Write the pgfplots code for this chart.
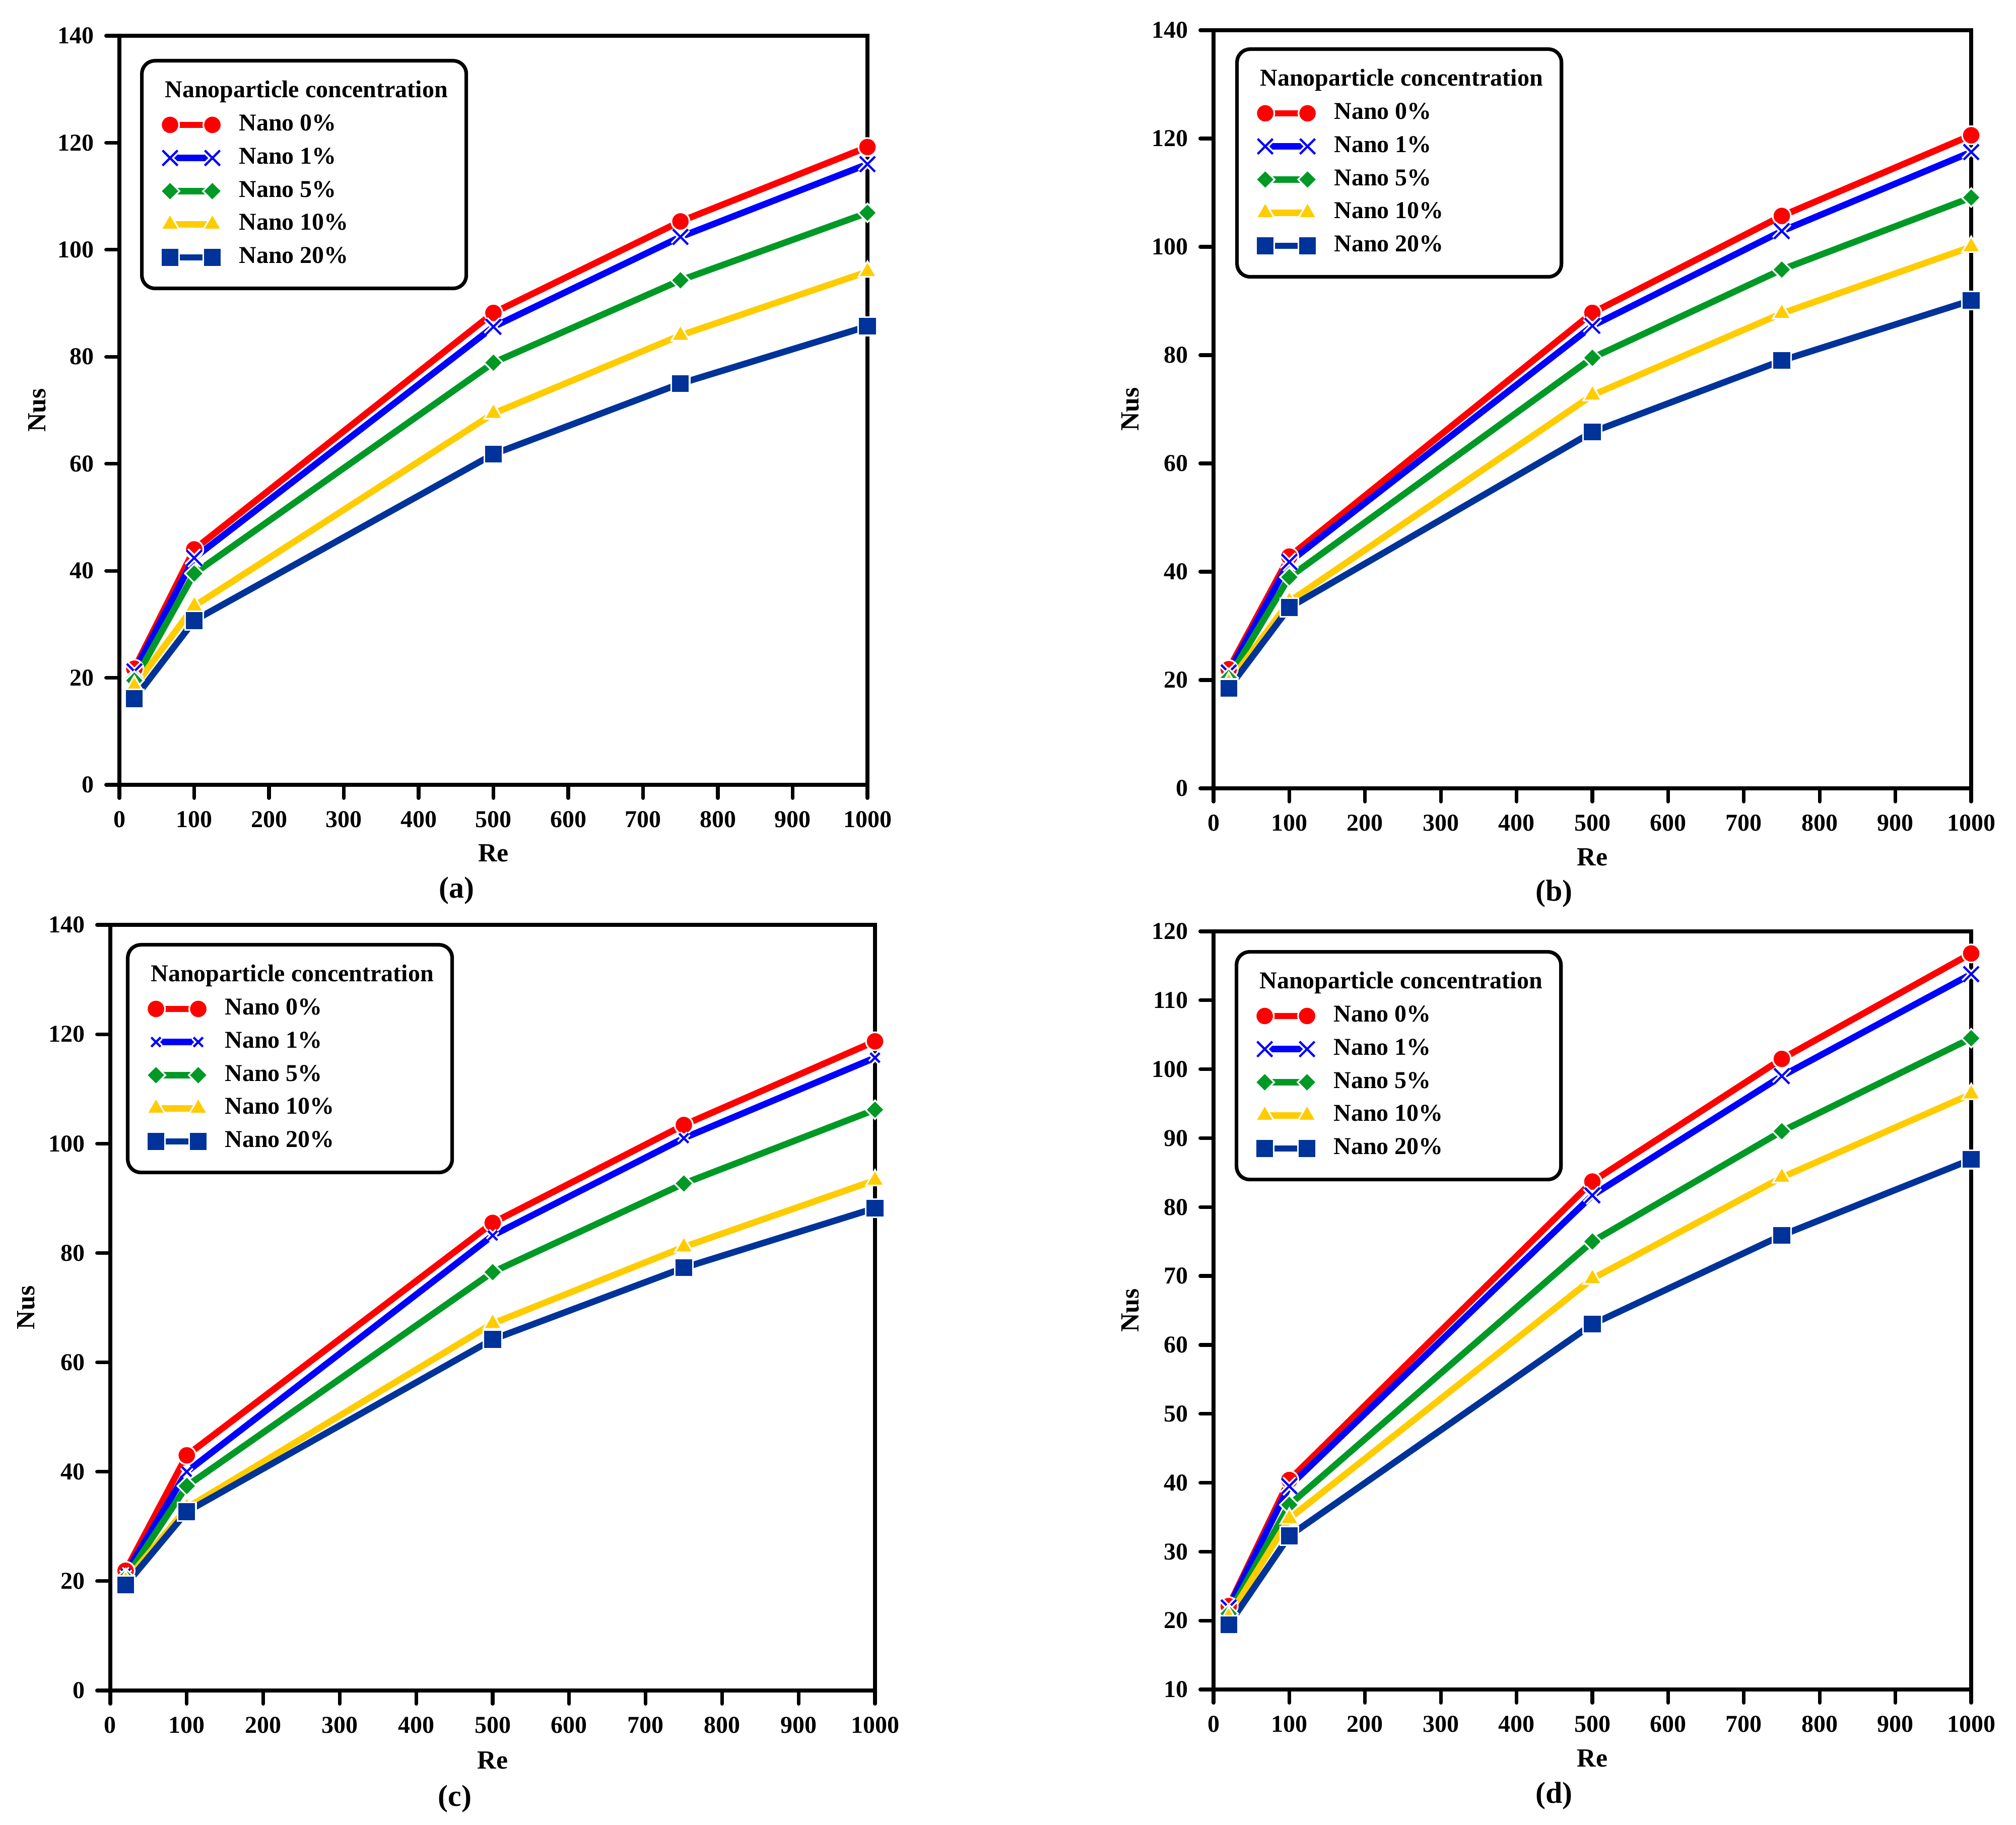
\documentclass[border=0pt]{standalone}
\usepackage{fontspec}
\setmainfont{Liberation Serif}
\usepackage{pgfplots}
\pgfplotsset{compat=1.18}

\definecolor{redC}{RGB}{255,0,0}
\definecolor{blueC}{RGB}{0,0,255}
\definecolor{greenC}{RGB}{0,153,38}
\definecolor{yellowC}{RGB}{255,204,0}
\definecolor{navyC}{RGB}{0,51,153}

\pgfdeclareplotmark{wx}{%
  \pgfsetlinewidth{2.8pt}\pgfsetstrokecolor{white}%
  \pgfpathmoveto{\pgfqpoint{-\pgfplotmarksize}{-\pgfplotmarksize}}%
  \pgfpathlineto{\pgfqpoint{\pgfplotmarksize}{\pgfplotmarksize}}%
  \pgfpathmoveto{\pgfqpoint{-\pgfplotmarksize}{\pgfplotmarksize}}%
  \pgfpathlineto{\pgfqpoint{\pgfplotmarksize}{-\pgfplotmarksize}}%
  \pgfusepathqstroke
  \pgfsetlinewidth{1.1pt}\pgfsetstrokecolor{blueC}%
  \pgfpathmoveto{\pgfqpoint{-\pgfplotmarksize}{-\pgfplotmarksize}}%
  \pgfpathlineto{\pgfqpoint{\pgfplotmarksize}{\pgfplotmarksize}}%
  \pgfpathmoveto{\pgfqpoint{-\pgfplotmarksize}{\pgfplotmarksize}}%
  \pgfpathlineto{\pgfqpoint{\pgfplotmarksize}{-\pgfplotmarksize}}%
  \pgfusepathqstroke
}

\pgfplotsset{
  common/.style={
    scale only axis,
    anchor=south west,
    clip=false,
    xmin=0, xmax=1000,
    xtick={0,100,...,1000},
    tick align=outside,
    tick pos=left,
    major tick length=6.6pt,
    every tick/.style={black, line width=1.8pt, line cap=round},
    axis line style={line width=1.8pt},
    tick label style={font=\fontsize{12}{14}\selectfont\bfseries},
    xticklabel style={yshift=-3pt},
    yticklabel style={xshift=-2.5pt},
    /pgf/number format/assume math mode=true,
    /pgf/number format/1000 sep={},
    xlabel={Re}, ylabel={Nus},
    label style={font=\fontsize{13}{15}\selectfont\bfseries},
    xlabel style={at={(axis description cs:0.5,-0.091)}, anchor=center},
    ylabel style={at={(axis description cs:-0.11,0.5)}, anchor=center},
    legend cell align=left,
    legend image code/.code={%
      \draw[##1, sharp corners] plot coordinates {(0pt,0pt) (21pt,0pt)};
      \path (-5.2pt,0pt) (26.2pt,0pt);
    },
    legend style={at={(0,1)}, anchor=north west,
      draw=black, line width=1.8pt, rounded corners=6.5pt,
      inner xsep=7.2pt, inner ysep=7.3pt,
      column sep=4.4pt, row sep=0.24pt,
      font=\fontsize{12}{14}\selectfont\bfseries,
      nodes={inner sep=2pt, text height=9pt, text depth=3.2pt}},
  },
  s0/.style={redC, line width=3.2pt, mark=*, mark size=4.5pt,
    mark options={solid, fill=redC, draw=white, line width=0.8pt}},
  s1/.style={blueC, line width=3.2pt, mark=wx, mark size=3.75pt},
  s1c/.style={blueC, line width=3.2pt, mark=wx, mark size=2.3pt},
  s5/.style={greenC, line width=3.2pt, mark=square*, mark size=3.3pt,
    mark options={solid, rotate=45, fill=greenC, draw=white, line width=0.8pt}},
  s10/.style={yellowC, line width=3.2pt, mark=triangle*, mark size=5.2pt,
    mark options={solid, fill=yellowC, draw=white, line width=0.8pt}},
  s20/.style={navyC, line width=3.2pt, mark=square*, mark size=4.55pt,
    mark options={solid, fill=navyC, draw=white, line width=0.8pt}},
}

\newcommand{\legtitle}{\addlegendimage{empty legend}\addlegendentry{\hspace*{-36.7pt}Nanoparticle concentration}}

\begin{document}
\begin{tikzpicture}
\useasboundingbox (0pt,0pt) rectangle (1000.5pt,905.5pt);

% ---------- (a)
\begin{axis}[common, at={(59.25pt,516pt)}, width=371.25pt, height=371.75pt,
  ymin=0, ymax=140, ytick={0,20,...,140},
  legend style={xshift=10.25pt, yshift=-11.5pt}]
\legtitle
\addplot[s0] coordinates {(20,21.7)(100,44.0)(500,88.2)(750,105.3)(1000,119.2)};
\addlegendentry{Nano 0\%}
\addplot[s1] coordinates {(20,21.2)(100,42.4)(500,85.6)(750,102.4)(1000,116.0)};
\addlegendentry{Nano 1\%}
\addplot[s5] coordinates {(20,19.5)(100,39.5)(500,78.9)(750,94.3)(1000,106.9)};
\addlegendentry{Nano 5\%}
\addplot[s10] coordinates {(20,18.4)(100,33.4)(500,69.4)(750,84.0)(1000,95.9)};
\addlegendentry{Nano 10\%}
\addplot[s20] coordinates {(20,16.1)(100,30.7)(500,61.8)(750,75.0)(1000,85.7)};
\addlegendentry{Nano 20\%}
\end{axis}

% ---------- (b)
\begin{axis}[common, at={(602.25pt,514.25pt)}, width=376pt, height=376.25pt,
  ymin=0, ymax=140, ytick={0,20,...,140},
  legend style={xshift=10.75pt, yshift=-8.5pt}]
\legtitle
\addplot[s0] coordinates {(20,22.0)(100,42.8)(500,87.8)(750,105.7)(1000,120.6)};
\addlegendentry{Nano 0\%}
\addplot[s1] coordinates {(20,21.4)(100,41.8)(500,85.4)(750,102.9)(1000,117.5)};
\addlegendentry{Nano 1\%}
\addplot[s5] coordinates {(20,20.4)(100,39.0)(500,79.5)(750,95.8)(1000,109.1)};
\addlegendentry{Nano 5\%}
\addplot[s10] coordinates {(20,19.5)(100,34.5)(500,72.6)(750,87.7)(1000,100.0)};
\addlegendentry{Nano 10\%}
\addplot[s20] coordinates {(20,18.5)(100,33.4)(500,65.8)(750,79.0)(1000,90.1)};
\addlegendentry{Nano 20\%}
\end{axis}

% ---------- (c)
\begin{axis}[common, at={(54.75pt,66.5pt)}, width=379.5pt, height=380pt,
  ymin=0, ymax=140, ytick={0,20,...,140},
  legend style={xshift=7.75pt, yshift=-9pt}]
\legtitle
\addplot[s0] coordinates {(20,21.9)(100,43.0)(500,85.5)(750,103.4)(1000,118.7)};
\addlegendentry{Nano 0\%}
\addplot[s1c] coordinates {(20,21.4)(100,40.0)(500,83.2)(750,101.0)(1000,115.7)};
\addlegendentry{Nano 1\%}
\addplot[s5] coordinates {(20,20.6)(100,37.4)(500,76.5)(750,92.7)(1000,106.2)};
\addlegendentry{Nano 5\%}
\addplot[s10] coordinates {(20,20.0)(100,33.4)(500,67.1)(750,81.1)(1000,93.3)};
\addlegendentry{Nano 10\%}
\addplot[s20] coordinates {(20,19.3)(100,32.7)(500,64.2)(750,77.3)(1000,88.2)};
\addlegendentry{Nano 20\%}
\end{axis}

% ---------- (d)
\begin{axis}[common, at={(602.25pt,67pt)}, width=376pt, height=376.25pt,
  ymin=10, ymax=120, ytick={10,20,...,120},
  legend style={xshift=10.5pt, yshift=-9.25pt}]
\legtitle
\addplot[s0] coordinates {(20,22.1)(100,40.4)(500,83.7)(750,101.5)(1000,116.8)};
\addlegendentry{Nano 0\%}
\addplot[s1] coordinates {(20,21.9)(100,39.5)(500,81.7)(750,99.0)(1000,113.8)};
\addlegendentry{Nano 1\%}
\addplot[s5] coordinates {(20,21.0)(100,36.8)(500,75.0)(750,91.0)(1000,104.5)};
\addlegendentry{Nano 5\%}
\addplot[s10] coordinates {(20,20.5)(100,34.8)(500,69.6)(750,84.3)(1000,96.4)};
\addlegendentry{Nano 10\%}
\addplot[s20] coordinates {(20,19.4)(100,32.3)(500,63.0)(750,75.9)(1000,86.9)};
\addlegendentry{Nano 20\%}
\end{axis}

\begin{scope}[every node/.style={font=\fontsize{15}{17}\selectfont\bfseries}]
\node at (226.5pt,463.5pt) {(a)};
\node at (771.25pt,462pt) {(b)};
\node at (225.75pt,12.75pt) {(c)};
\node at (771.25pt,14.25pt) {(d)};
\end{scope}
\end{tikzpicture}
\end{document}
